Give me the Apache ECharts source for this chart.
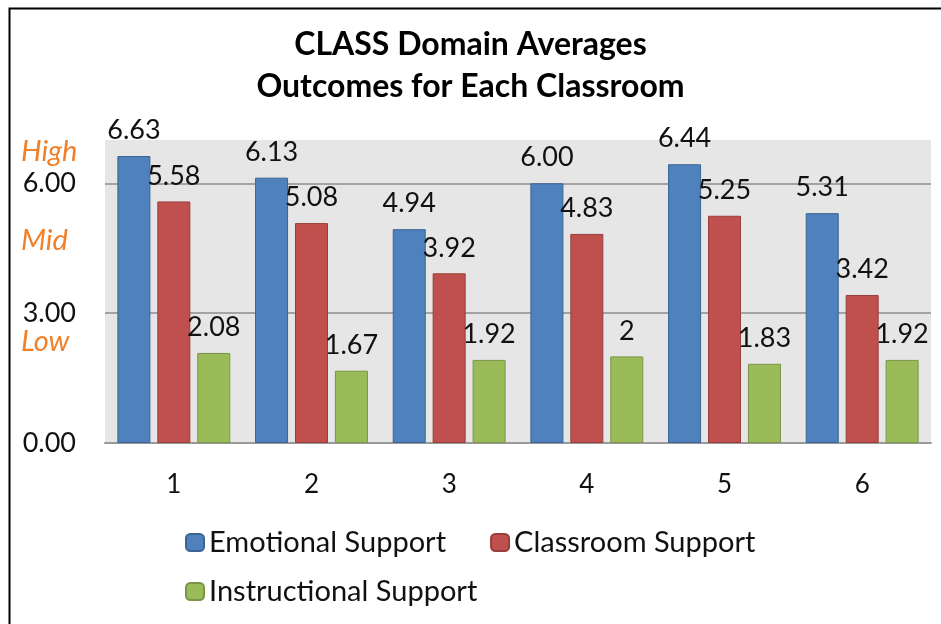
<!DOCTYPE html>
<html>
<head>
<meta charset="utf-8">
<script src="https://cdn.jsdelivr.net/npm/echarts@6/dist/echarts.min.js"></script>
<style>
  html, body { margin: 0; padding: 0; background: #fff; }
  #chart { width: 941px; height: 624px; }
</style>
</head>
<body>
<div id="chart"></div>
<script>
const classrooms = ["1", "2", "3", "4", "5", "6"];
const emotional = [6.63, 6.13, 4.94, 6.00, 6.44, 5.31];
const classroom = [5.58, 5.08, 3.92, 4.83, 5.25, 3.42];
const instructional = [2.08, 1.67, 1.92, 2, 1.83, 1.92];
// label text exactly as printed on the chart
const emotionalText = ["6.63", "6.13", "4.94", "6.00", "6.44", "5.31"];
const classroomText = ["5.58", "5.08", "3.92", "4.83", "5.25", "3.42"];
const instructionalText = ["2.08", "1.67", "1.92", "2", "1.83", "1.92"];
const yTicks = [0, 3, 6];
const levelValues = [2.35, 4.68, 6.72];
const levelNames = ["Low", "Mid", "High"];

const FONT = "Lato, 'Open Sans', sans-serif";
const chart = echarts.init(document.getElementById("chart"), null, { renderer: "canvas" });

function barSeries(name, data, texts, color, border) {
  return {
    name: name,
    type: "bar",
    data: data,
    barGap: "21%",
    barCategoryGap: "18%",
    itemStyle: { color: color, borderColor: border, borderWidth: 1 },
    label: {
      show: true,
      position: "top",
      distance: 12,
      color: "#111",
      fontFamily: FONT,
      fontSize: 27,
      formatter: (p) => texts[p.dataIndex]
    }
  };
}

chart.setOption({
  animation: false,
  textStyle: { fontFamily: FONT },
  title: {
    text: "CLASS Domain Averages\nOutcomes for Each Classroom",
    left: "center",
    top: 19,
    padding: [5, 0, 5, 16],
    textStyle: { fontFamily: FONT, fontSize: 32, fontWeight: "bold", color: "#000", lineHeight: 42 }
  },
  graphic: [{
    type: "rect",
    left: 7, top: 6,
    shape: { width: 1000, height: 1000 },
    style: { fill: "none", stroke: "#000", lineWidth: 2 },
    silent: true
  }],
  legend: [
    {
      data: ["Emotional Support", "Classroom Support"],
      left: 180, top: 523,
      itemWidth: 18, itemHeight: 17, itemGap: 44,
      textStyle: { fontFamily: FONT, fontSize: 29, color: "#111" }
    },
    {
      data: ["Instructional Support"],
      left: 180, top: 572,
      itemWidth: 18, itemHeight: 17,
      textStyle: { fontFamily: FONT, fontSize: 29, color: "#111" }
    }
  ],
  grid: {
    left: 105, right: 10, top: 140, bottom: 181,
    show: true, backgroundColor: "#e6e6e6", borderWidth: 0
  },
  xAxis: {
    type: "category",
    data: classrooms,
    axisLine: { lineStyle: { color: "#9a9a9a", width: 2 } },
    axisTick: { show: false },
    axisLabel: { color: "#111", fontFamily: FONT, fontSize: 26, margin: 29 }
  },
  yAxis: [
    {
      type: "value",
      min: 0, max: 7,
      axisLine: { show: false },
      axisTick: { show: false, customValues: yTicks },
      splitLine: { lineStyle: { color: "#8c8c8c", width: 1.5 } },
      axisLabel: {
        customValues: yTicks,
        color: "#111", fontFamily: FONT, fontSize: 27, margin: 29,
        formatter: (v) => v.toFixed(2)
      }
    },
    {
      type: "value",
      position: "left",
      min: 0, max: 7,
      axisLine: { show: false },
      axisTick: { show: false },
      splitLine: { show: false },
      axisLabel: {
        customValues: levelValues,
        align: "left",
        margin: 84,
        color: "#f0802a", fontFamily: FONT, fontSize: 29, fontStyle: "italic",
        formatter: (v) => levelNames[levelValues.indexOf(v)]
      }
    }
  ],
  series: [
    barSeries("Emotional Support", emotional, emotionalText, "#4f81bd", "#3b6494"),
    barSeries("Classroom Support", classroom, classroomText, "#c0504d", "#983e3b"),
    barSeries("Instructional Support", instructional, instructionalText, "#9bbb59", "#7a9546")
  ]
});
</script>
</body>
</html>
